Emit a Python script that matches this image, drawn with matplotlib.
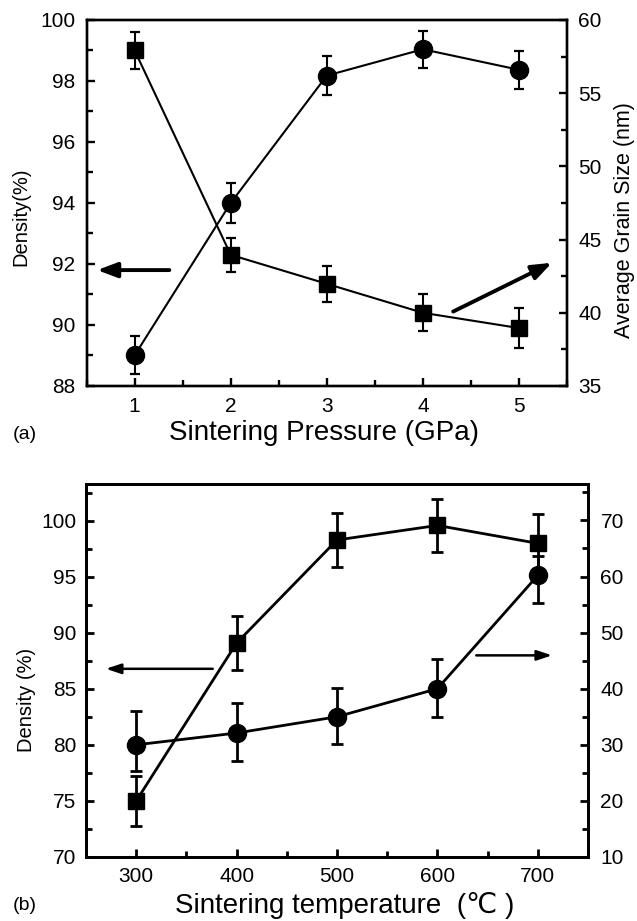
import numpy as np
import matplotlib.pyplot as plt
from matplotlib.ticker import MultipleLocator

plt.rcParams['font.family'] = ['Liberation Sans', 'DejaVu Sans']
plt.rcParams['font.size'] = 15

# panel (a)
pressure = [1, 2, 3, 4, 5]
dens_a = [99.0, 92.3, 91.35, 90.4, 89.9]
dens_a_err = [0.6, 0.55, 0.6, 0.6, 0.65]
grain_a = [37.1, 47.5, 56.2, 58.0, 56.6]
grain_a_err = [1.3, 1.35, 1.35, 1.25, 1.3]

# panel (b)
temp = [300, 400, 500, 600, 700]
dens_b = [75.0, 89.1, 98.3, 99.6, 98.0]
dens_b_err = [2.25, 2.4, 2.45, 2.35, 2.6]
grain_b = [30.0, 32.1, 35.0, 40.0, 60.2]
grain_b_lo = [4.7, 4.9, 4.9, 5.1, 5.0]
grain_b_hi = [6.0, 5.3, 5.15, 5.3, 3.4]

fig = plt.figure(figsize=(6.37, 9.21), dpi=100)


def style(ax, lw, pad):
    for s in ax.spines.values():
        s.set_linewidth(lw)
    ax.tick_params(which='both', direction='in', width=lw, top=False,
                   labelsize=15, pad=pad)
    ax.tick_params(which='major', length=6)
    ax.tick_params(which='minor', length=4.5)


# ---- (a)
ebka = dict(color='black', lw=1.5, capsize=3.3, capthick=1.6)
ax = fig.add_axes([0.136, 0.5809, 0.754, 0.3974])
ax2 = ax.twinx()
ax.errorbar(pressure, dens_a, yerr=dens_a_err, marker='s', markersize=11.5, **ebka)
ax2.errorbar(pressure, grain_a, yerr=grain_a_err, marker='o', markersize=13, **ebka)
ax.set_xlim(0.5, 5.5)
ax.set_ylim(88, 100)
ax2.set_ylim(35, 60)
ax.xaxis.set_major_locator(MultipleLocator(1))
ax.xaxis.set_minor_locator(MultipleLocator(0.5))
ax.yaxis.set_major_locator(MultipleLocator(2))
ax.yaxis.set_minor_locator(MultipleLocator(1))
ax2.yaxis.set_major_locator(MultipleLocator(5))
ax2.yaxis.set_minor_locator(MultipleLocator(2.5))
style(ax, 1.7, 8)
style(ax2, 1.7, 8)
ax.annotate('', xy=(0.58, 91.8), xytext=(1.39, 91.8),
            arrowprops=dict(arrowstyle='-|>,head_length=0.8,head_width=0.3',
                            color='black', lw=2.8))
ax2.annotate('', xy=(5.37, 43.5), xytext=(4.29, 40.0),
             arrowprops=dict(arrowstyle='-|>,head_length=0.8,head_width=0.3',
                             color='black', lw=2.8))
fig.text(0.033, 0.7644, 'Density(%)', rotation=90, ha='center', va='center', fontsize=14.5)
fig.text(0.981, 0.7611, 'Average Grain Size (nm)', rotation=90, ha='center', va='center',
         fontsize=15.5)
fig.text(0.5086, 0.5299, 'Sintering Pressure (GPa)', ha='center', va='center', fontsize=20)
fig.text(0.020, 0.5277, '(a)', ha='left', va='center', fontsize=14)

# ---- (b)
ebkb = dict(color='black', lw=2, capsize=4.3, capthick=2)
bx = fig.add_axes([0.135, 0.0695, 0.788, 0.405])
bx2 = bx.twinx()
bx.errorbar(temp, dens_b, yerr=dens_b_err, marker='s', markersize=12, **ebkb)
bx2.errorbar(temp, grain_b, yerr=[grain_b_lo, grain_b_hi], marker='o', markersize=13, **ebkb)
bx.set_xlim(250, 750)
bx.set_ylim(70, 103.3)
bx2.set_ylim(10, 76.5)
bx.xaxis.set_major_locator(MultipleLocator(100))
bx.xaxis.set_minor_locator(MultipleLocator(50))
bx.yaxis.set_major_locator(MultipleLocator(5))
bx.yaxis.set_minor_locator(MultipleLocator(2.5))
bx2.yaxis.set_major_locator(MultipleLocator(10))
bx2.yaxis.set_minor_locator(MultipleLocator(5))
style(bx, 2, 7)
style(bx2, 2, 9)
bx.annotate('', xy=(267, 86.8), xytext=(379, 86.8),
            arrowprops=dict(arrowstyle='-|>,head_length=0.6,head_width=0.2',
                            color='black', lw=1.8))
bx.annotate('', xy=(717, 88.0), xytext=(636, 88.0),
            arrowprops=dict(arrowstyle='-|>,head_length=0.6,head_width=0.2',
                            color='black', lw=1.8))
fig.text(0.042, 0.2400, 'Density (%)', rotation=90, ha='center', va='center', fontsize=14.5)
fig.text(0.5416, 0.0163, 'Sintering temperature  (\u2103 )', ha='center', va='center', fontsize=20)
fig.text(0.020, 0.0163, '(b)', ha='left', va='center', fontsize=14)

plt.savefig('out.png', dpi=100)
